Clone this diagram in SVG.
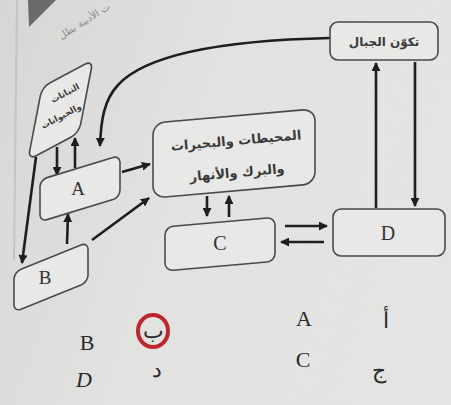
<svg xmlns="http://www.w3.org/2000/svg" width="451" height="405" viewBox="0 0 451 405">
<defs>
<linearGradient id="bg" x1="0" y1="0" x2="1" y2="0.3">
<stop offset="0" stop-color="#d6d6d4"/>
<stop offset="0.5" stop-color="#e2e2e0"/>
<stop offset="1" stop-color="#e4e4e2"/>
</linearGradient>
<marker id="ah" viewBox="0 0 10 10" refX="9" refY="5" markerWidth="9" markerHeight="9" markerUnits="userSpaceOnUse" orient="auto">
<path d="M0,0 L10,5 L0,10 Z" fill="#1e1e1e"/>
</marker>
</defs>
<style>
.box{fill:#e8e8e6;stroke:#4a4a4a;stroke-width:1.6;vector-effect:non-scaling-stroke}
.ar{fill:none;stroke:#1e1e1e;stroke-width:2.6;marker-end:url(#ah)}
.lat{font-family:"Liberation Serif","DejaVu Serif",serif;fill:#333;text-anchor:middle}
.arb{font-family:"DejaVu Sans","Noto Sans",sans-serif;font-weight:bold;fill:#3a3a3a;text-anchor:middle}
.ans{font-family:"Liberation Serif","DejaVu Serif",serif;fill:#2a2a2a;text-anchor:middle;font-size:22px}
</style>
<rect x="0" y="0" width="451" height="405" fill="url(#bg)"/>
<line x1="17" y1="0" x2="14" y2="260" stroke="#c4c4c2" stroke-width="2"/>
<polygon points="28,0 56,0 29,27" fill="#6a6a6a"/>
<text x="86" y="24" transform="rotate(-32 86 24)" font-family="DejaVu Sans, sans-serif" font-size="10" fill="#8a8a8a" text-anchor="middle">ت الأدبية بطل</text>

<g id="connectors">
<path class="ar" d="M330,38 C240,40 150,50 118,85 C104,100 101,120 100,146"/>
<line class="ar" x1="57" y1="147" x2="57" y2="175"/>
<line class="ar" x1="75" y1="168" x2="75" y2="138"/>
<line class="ar" x1="36" y1="157" x2="22" y2="263"/>
<line class="ar" x1="122" y1="172" x2="150" y2="164"/>
<line class="ar" x1="92" y1="240" x2="149" y2="198"/>
<line class="ar" x1="67" y1="244" x2="68" y2="214"/>
<line class="ar" x1="207" y1="196" x2="207" y2="216"/>
<line class="ar" x1="229" y1="217" x2="229" y2="196"/>
<line class="ar" x1="285" y1="226" x2="327" y2="226"/>
<line class="ar" x1="324" y1="242" x2="281" y2="242"/>
<line class="ar" x1="376" y1="208" x2="376" y2="63"/>
<line class="ar" x1="415" y1="62" x2="415" y2="206"/>
</g>

<g id="node-mountains">
<rect class="box" x="330" y="22" width="108" height="38" rx="8"/>
<text class="arb" x="384" y="46" font-size="12">تكوّن الجبال</text>
</g>

<g id="node-plants">
<rect class="box" x="0" y="0" width="60" height="75" rx="9" transform="matrix(0.85,-0.45,-0.187,0.973,42,87)"/>
<text class="arb" x="65" y="96" font-size="8.5" fill="#707070" transform="rotate(-28 65 93)">النباتات</text>
<text class="arb" x="61" y="119" font-size="8.5" fill="#707070" transform="rotate(-28 61 116)">والحيوانات</text>
</g>

<g id="node-oceans">
<rect class="box" x="153" y="136.4" width="162" height="75" rx="12" transform="skewY(-5)"/>
<text class="arb" x="236" y="145" font-size="13" transform="rotate(-5 236 140)">المحيطات والبحيرات</text>
<text class="arb" x="237" y="177" font-size="13" transform="rotate(-5 237 172)">والبرك والأنهار</text>
</g>

<g id="node-A">
<rect class="box" x="40" y="192" width="80" height="42" rx="7" transform="skewY(-17)"/>
<text class="lat" x="78" y="195" font-size="19">A</text>
</g>

<g id="node-B">
<rect class="box" x="14" y="277.7" width="74" height="40" rx="7" transform="skewY(-22)"/>
<text class="lat" x="45" y="284" font-size="19">B</text>
</g>

<g id="node-C">
<rect class="box" x="165" y="241.4" width="110" height="44" rx="8" transform="skewY(-5)"/>
<text class="lat" x="220" y="250" font-size="20">C</text>
</g>

<g id="node-D">
<rect class="box" x="333" y="209" width="112" height="47" rx="8"/>
<text class="lat" x="388" y="240" font-size="20">D</text>
</g>

<g id="answers">
<text class="ans" x="304" y="326">A</text>
<text class="ans" x="386" y="328" font-size="20">أ</text>
<text class="ans" x="87" y="350">B</text>
<ellipse cx="153" cy="331" rx="15" ry="16" fill="none" stroke="#c0242c" stroke-width="4"/>
<text class="ans" x="153" y="338" font-size="20">ب</text>
<text class="ans" x="303" y="367">C</text>
<text class="ans" x="379" y="378" font-size="20">ج</text>
<text class="ans" x="84" y="387" font-style="italic">D</text>
<text class="ans" x="157" y="377" font-size="18">د</text>
</g>
</svg>
